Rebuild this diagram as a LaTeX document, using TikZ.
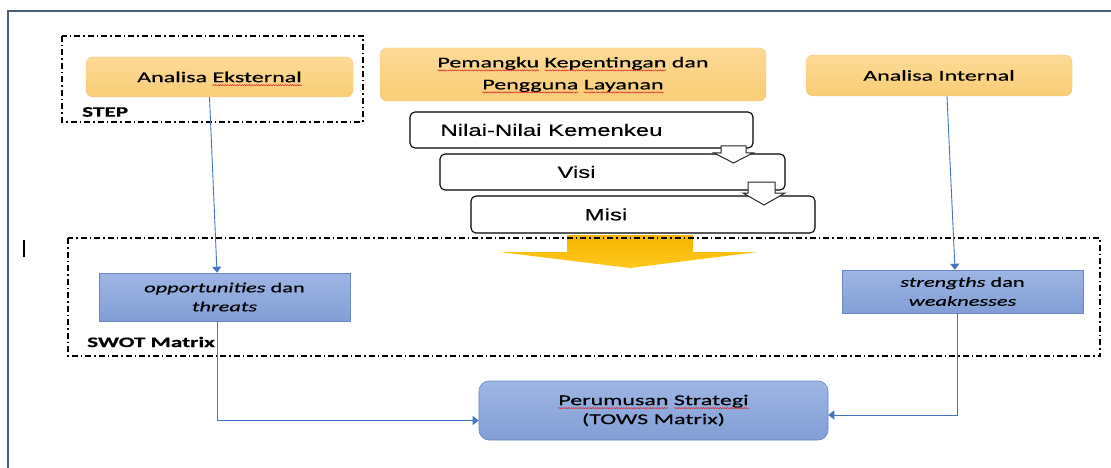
\documentclass[tikz,border=0pt]{standalone}
\usepackage{fontspec}
\setmainfont{Carlito}[FakeStretch=1.6,FakeBold=0.5]
\newfontfamily\arialf{Liberation Sans}[FakeStretch=1.45,FakeBold=0.4]
\usetikzlibrary{arrows.meta,decorations.pathmorphing}
\definecolor{orT}{RGB}{252,218,150}
\definecolor{orB}{RGB}{249,205,118}
\definecolor{orE}{RGB}{240,200,130}
\definecolor{blT}{RGB}{158,182,228}
\definecolor{blB}{RGB}{130,158,213}
\definecolor{blE}{RGB}{105,135,195}
\definecolor{connblue}{RGB}{68,114,196}
\definecolor{frameC}{RGB}{75,95,115}
\definecolor{yelT}{RGB}{245,180,0}
\definecolor{yelB}{RGB}{255,200,30}
\definecolor{wavered}{RGB}{220,40,40}
\newlength\wvlen
\newcommand\wv[1]{\settowidth\wvlen{#1}#1\tikz[overlay,baseline=0pt]\draw[wavered,sharp corners,solid,line width=0.5pt,decorate,decoration={snake,amplitude=0.6pt,segment length=2.4pt}] (-\wvlen,-3pt) -- (0pt,-3pt);}
\begin{document}
\begin{tikzpicture}[x=1pt,y=-1pt,
  orbox/.style={rounded corners=7pt, top color=orT, bottom color=orB, draw=orE, line width=0.4pt,
    inner sep=0pt, align=center, font=\fontsize{15}{22}\selectfont},
  whbox/.style={draw=black, line width=1.1pt, rounded corners=5pt, fill=white, inner sep=0pt,
    font=\arialf\fontsize{16.5}{19}\selectfont},
  blbox/.style={top color=blT, bottom color=blB, draw=blE, line width=0.6pt, inner sep=0pt,
    align=center, font=\fontsize{14}{19}\selectfont},
  dashbox/.style={draw=black, line width=1.3pt, dash pattern=on 6pt off 3pt on 1.5pt off 3pt},
  conn/.style={draw=connblue, line width=0.9pt},
  tipc/.style={-{Triangle[length=6pt,width=9pt]}},
  blockarr/.style={draw=black!85, line width=1pt, fill=white, line join=miter},
  lbl/.style={inner sep=0pt, anchor=west, font=\bfseries\fontsize{14.5}{17}\selectfont}
]
\useasboundingbox (0,0) rectangle (1111,468);
\fill[white] (0,0) rectangle (1111,468);
% outer frame
\draw[frameC, line width=1.8pt] (8,468) -- (8,11) -- (1111,11);
% cursor mark
\draw[black, line width=1.2pt] (24,240) -- (24,257);

% STEP group
\draw[dashbox] (62,36) rectangle (363,122);
\node[orbox, minimum width=267pt, minimum height=40pt] (ae) at (219.5,77) {Analisa \wv{Eksternal}};
\node[lbl] (steplbl) at (82,112) {STEP};

% top centre
\node[orbox, minimum width=386pt, minimum height=53pt] (pk) at (573,74.5)
  {\wv{Pemangku} \wv{Kepentingan} dan\\\wv{Pengguna} \wv{Layanan}};
\node[orbox, minimum width=266pt, minimum height=41pt] (ai) at (939,75.5) {Analisa Internal};

% process boxes
\node[whbox, minimum width=343pt, minimum height=36pt] (nk) at (581.5,130) {Nilai-Nilai Kemenkeu\hspace*{60pt}};
\node[whbox, minimum width=345pt, minimum height=36pt] (vi) at (612.5,172) {Visi\hspace*{72pt}};
\draw[blockarr] (721,146) -- (746,146) -- (746,153) -- (753,153) -- (733.5,163) -- (714,153) -- (721,153) -- cycle;
\node[whbox, minimum width=344pt, minimum height=37pt] (mi) at (643,214.5) {Misi\hspace*{74pt}};
\draw[blockarr] (748,182) -- (775,182) -- (775,193) -- (785,193) -- (764,205) -- (743,193) -- (748,193) -- cycle;

% yellow arrow
\shade[top color=yelT, bottom color=yelB] (567,235) -- (693,235) -- (693,252) -- (757,252) -- (630,268) -- (500,252) -- (567,252) -- cycle;

% SWOT group
\draw[dashbox] (68,238) rectangle (1100,356);
\node[blbox, minimum width=251pt, minimum height=48pt] (ot) at (224.5,297) {\textit{opportunities} dan\\\textit{threats}};
\node[blbox, minimum width=241pt, minimum height=43pt] (sw) at (962.5,291.5) {\textit{strengths} dan\\\textit{weaknesses}};
\node[lbl] (swotlbl) at (87,342) {SWOT Matrix};

% result
\node[blbox, rounded corners=10pt, minimum width=349pt, minimum height=59pt, font=\fontsize{15}{19}\selectfont] (ps) at (653.5,410.5)
  {\wv{Perumusan} \wv{Strategi}\\(TOWS Matrix)};

% connectors
\draw[conn, tipc] ([xshift=-10pt]ae.south) -- ([xshift=-7.5pt]ot.north);
\draw[conn, tipc] ([xshift=8pt]ai.south) -- ([xshift=-7.5pt]sw.north);
\draw[conn, tipc] ([xshift=-7.5pt]ot.south) |- ([yshift=-10pt]ps.west);
\draw[conn, tipc] ([xshift=-5.5pt]sw.south) |- ([yshift=-4.5pt]ps.east);
\end{tikzpicture}
\end{document}
